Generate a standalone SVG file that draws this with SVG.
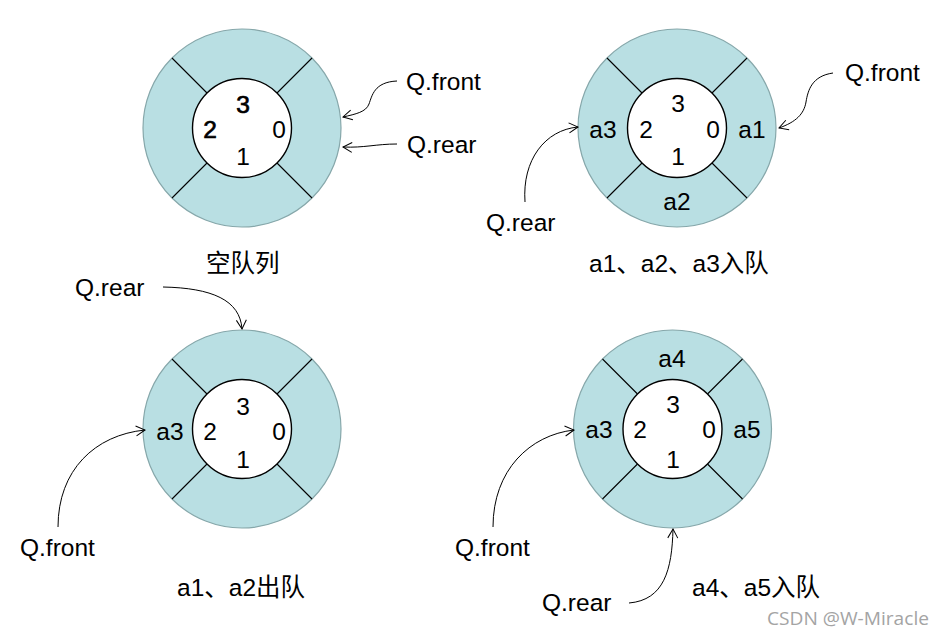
<svg xmlns="http://www.w3.org/2000/svg" xmlns:xlink="http://www.w3.org/1999/xlink" width="943" height="636" viewBox="0 0 943 636">
<style>
.outer{fill:#b9dfe3;stroke:#86a7aa;stroke-width:1.2}
.inner{fill:#ffffff;stroke:#000;stroke-width:1.4}
.div{stroke:#000;stroke-width:1.1;fill:none}
.t{font-family:"Liberation Sans",Arial,"Noto Sans CJK SC",sans-serif;font-size:24.5px;fill:#000}
.c{text-anchor:middle}
.b{stroke:#000;stroke-width:0.7}
.cap{font-family:"Liberation Sans",Arial,"Noto Sans CJK SC",sans-serif;font-size:24.5px;fill:#000}
.wm{font-family:"Open Sans","Noto Sans",sans-serif;font-size:18px;fill:#a4a4a4}
.arr{fill:none;stroke:#000;stroke-width:1;marker-end:url(#ah)}
</style>
<defs>
<marker id="ah" markerUnits="userSpaceOnUse" markerWidth="14" markerHeight="14" refX="0" refY="0" viewBox="-10 -7 12 14" orient="auto">
<path d="M-9,-5 L0,0 L-9,5" fill="none" stroke="#000" stroke-width="1"/>
</marker>
<g id="ring">
<circle class="outer" cx="0" cy="0" r="99"/>
<path class="div" d="M-70,-70 L-35,-35 M70,-70 L35,-35 M-70,70 L-35,35 M70,70 L35,35"/>
<circle class="inner" cx="0" cy="0" r="49.5"/>
</g>
</defs>
<rect width="943" height="636" fill="#ffffff"/>

<g id="queue-empty">
<use xlink:href="#ring" href="#ring" transform="translate(242,128)"/>
<text class="t c b" x="243" y="113">3</text>
<text class="t c b" x="210" y="138">2</text>
<text class="t c" x="279" y="138">0</text>
<text class="t c" x="243" y="165">1</text>
<text class="cap" x="206" y="272">空队列</text>
</g>
<g id="label-front-1"><text class="t" x="406" y="90">Q.front</text></g>
<g id="label-rear-1"><text class="t" x="407" y="153">Q.rear</text></g>

<g id="queue-enqueue">
<use xlink:href="#ring" href="#ring" transform="translate(677,128)"/>
<text class="t c" x="678" y="112">3</text>
<text class="t c" x="646" y="138">2</text>
<text class="t c" x="713" y="138">0</text>
<text class="t c" x="678" y="165">1</text>
<text class="t c" x="603" y="138">a3</text>
<text class="t c" x="752" y="138">a1</text>
<text class="t c" x="677" y="210">a2</text>
<text class="cap" x="589" y="272">a1、a2、a3入队</text>
</g>
<g id="label-front-2"><text class="t" x="845" y="81">Q.front</text></g>
<g id="label-rear-2"><text class="t" x="486" y="231">Q.rear</text></g>

<g id="queue-dequeue">
<use xlink:href="#ring" href="#ring" transform="translate(242,429)"/>
<text class="t c" x="243" y="415">3</text>
<text class="t c" x="210" y="440">2</text>
<text class="t c" x="279" y="440">0</text>
<text class="t c" x="243" y="468">1</text>
<text class="t c" x="170" y="440">a3</text>
<text class="cap" x="177" y="596">a1、a2出队</text>
</g>
<g id="label-rear-3"><text class="t" x="75" y="296">Q.rear</text></g>
<g id="label-front-3"><text class="t" x="20" y="556">Q.front</text></g>

<g id="queue-wrap">
<use xlink:href="#ring" href="#ring" transform="translate(672.5,429)"/>
<text class="t c" x="672" y="367">a4</text>
<text class="t c" x="673" y="413">3</text>
<text class="t c" x="640" y="438">2</text>
<text class="t c" x="709" y="438">0</text>
<text class="t c" x="673" y="468">1</text>
<text class="t c" x="599" y="438">a3</text>
<text class="t c" x="747" y="438">a5</text>
<text class="cap" x="692" y="596">a4、a5入队</text>
</g>
<g id="label-front-4"><text class="t" x="455" y="556">Q.front</text></g>
<g id="label-rear-4"><text class="t" x="542" y="611">Q.rear</text></g>

<g id="connectors">
<path class="arr" d="M397,81 C374,82 372,96 369,104 S356,114 343,117"/>
<path class="arr" d="M397,144 C376,144 364,148 343,147"/>
<path class="arr" d="M833,73 C812,76 808,90 806,102 S796,122 779,128"/>
<path class="arr" d="M525,202 C522,160 545,130 578,127"/>
<path class="arr" d="M163,287 C212,288 240,300 242,329"/>
<path class="arr" d="M58,527 C58,470 95,435 145,430"/>
<path class="arr" d="M493,527 C493,470 530,435 574,430"/>
<path class="arr" d="M629,603 C664,600 672,570 673,529"/>
</g>

<text class="wm" x="767" y="625" textLength="162" lengthAdjust="spacingAndGlyphs">CSDN @W-Miracle</text>
</svg>
